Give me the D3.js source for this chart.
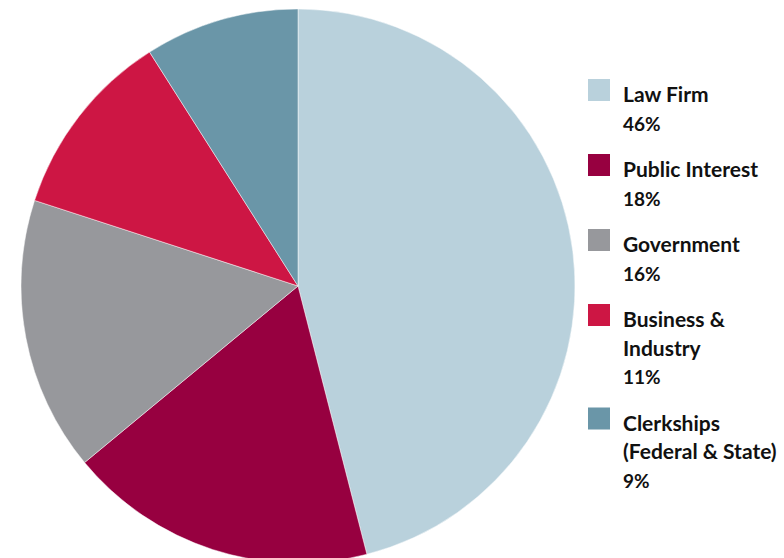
<!DOCTYPE html>
<html>
<head>
<meta charset="utf-8">
<script src="https://cdn.jsdelivr.net/npm/d3@7"></script>
<style>
  body { margin: 0; background: #fff; }
  text { font-family: Lato, "Open Sans", sans-serif; font-weight: 700; fill: #111; }
</style>
</head>
<body>
<div id="chart"></div>
<script>
// employment categories, in clockwise order from 12 o'clock
let categories = ["Law Firm", "Public Interest", "Government", "Business & Industry", "Clerkships (Federal & State)"]
let labelLines = [["Law Firm"], ["Public Interest"], ["Government"], ["Business &", "Industry"], ["Clerkships", "(Federal & State)"]]
let percents = [46, 18, 16, 11, 9]
let colors = ["#b9d1dc", "#970040", "#97989c", "#cd1644", "#6a96a8"]

function getConfig(){
    let width = 784, height = 558
    let cx = 298, cy = 286, radius = 277
    let svg = d3.select("#chart")
        .append("svg")
        .attr("width", width)
        .attr("height", height)
    return { width, height, cx, cy, radius, svg }
}

function drawPie(config){
    let { cx, cy, radius, svg } = config
    let data = categories.map((c, i) => ({ name: c, value: percents[i] }))
    let cScale = d3.scaleOrdinal().domain(categories).range(colors)

    let pie = d3.pie().sort(null).value(d => d.value)
    let arc = d3.arc().innerRadius(0).outerRadius(radius)

    svg.append("g")
        .attr("transform", "translate(" + [cx, cy] + ")")
        .selectAll("path")
        .data(pie(data))
        .enter()
        .append("path")
        .attr("d", arc)
        .attr("fill", d => cScale(d.data.name))
        .attr("stroke", "#fff")
        .attr("stroke-width", 0.8)
        .attr("stroke-opacity", 0.6)
    return cScale
}

function drawLegend(config, cScale){
    let { svg } = config
    let legend = svg.append("g").attr("transform", "translate(588,79)")
    let y = 0
    let box = 22, lineH = 28.5
    categories.forEach((c, i) => {
        legend.append("rect")
            .attr("x", 0)
            .attr("y", y)
            .attr("width", box)
            .attr("height", box)
            .attr("fill", cScale(c))
        let lines = labelLines[i].concat([percents[i] + "%"])
        lines.forEach((t, j) => {
            legend.append("text")
                .attr("x", 35)
                .attr("y", y + 23 + j * lineH)
                .style("font-size", j < lines.length - 1 ? "21px" : "19px")
                .text(t)
        })
        y += 75 + (lines.length - 2) * lineH
    })
}

let config = getConfig()
let cScale = drawPie(config)
drawLegend(config, cScale)
</script>
</body>
</html>
